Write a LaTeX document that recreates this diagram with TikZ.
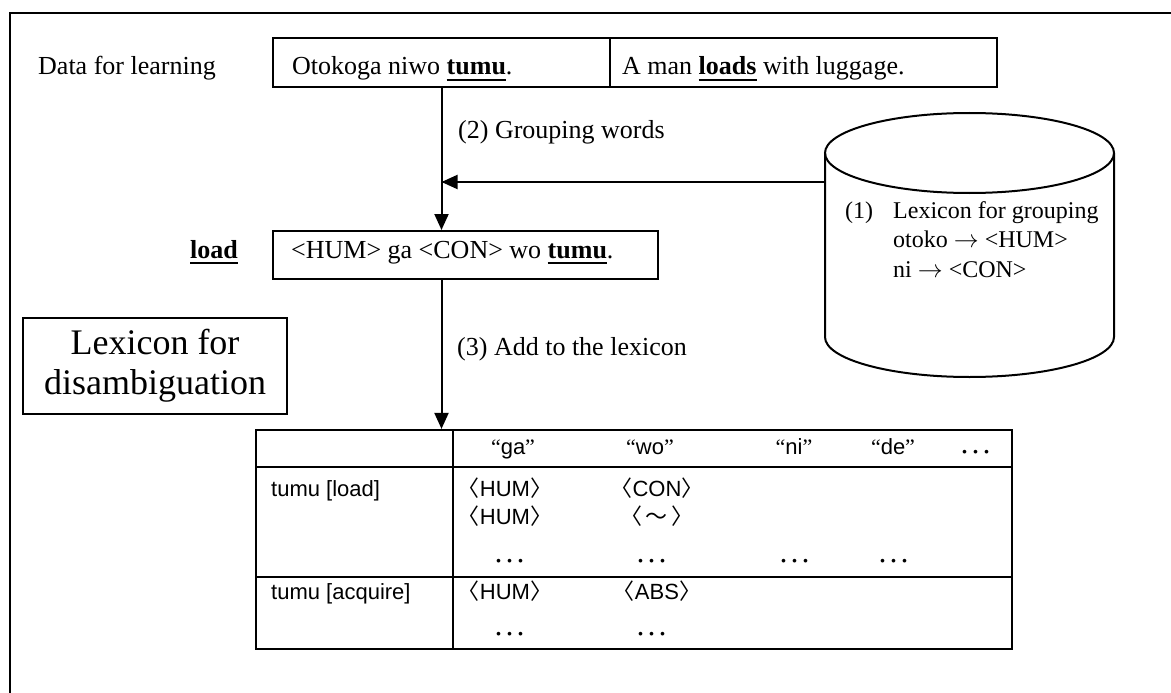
\documentclass[tikz,border=0pt]{standalone}
\usepackage{fontspec}
\setmainfont{Liberation Serif}
\newfontfamily\tabfont{Liberation Sans}
\newfontfamily\cjk{Noto Sans CJK JP}
\usetikzlibrary{arrows.meta,calc}
\newcommand\myul[1]{\setbox0\hbox{#1}\rlap{\rule[-6pt]{\wd0}{2.4pt}}\box0\relax}
\newcommand\myLq{{\rmfamily“}}
\newcommand\myRq{{\rmfamily”}}
\begin{document}
\begin{tikzpicture}[x=1pt,y=-1pt,
  lw/.style={line width=2pt},
  box/.style={draw,line width=2pt,inner sep=0pt},
  tline/.style={line width=2.2pt},
  txt/.style={inner sep=0pt,font=\fontsize{26}{30}\selectfont},
  ctxt/.style={inner sep=0pt,anchor=base west,font=\fontsize{24}{29}\selectfont},
  tt/.style={inner sep=0pt,font=\tabfont\fontsize{22}{26}\selectfont},
  dots/.style={inner sep=0pt,font=\cjk\fontsize{22}{26}\selectfont},
  arr/.style={line width=2pt,-{Triangle[length=16pt,width=14pt]}}]
\useasboundingbox (0,0) rectangle (1171,693);
% outer frame
\draw[line width=2.5pt] (10,693) -- (10,13) -- (1171,13);

% data for learning
\node[txt,anchor=base west] (dfl) at (38,75) {Data for learning};
\node[box,minimum width=337pt,minimum height=49pt] (c1) at (441.5,62.5) {};
\node[box,minimum width=387pt,minimum height=49pt] (c2) at (803.5,62.5) {};
\node[txt,anchor=base west] (t1) at (292,75) {Otokoga niwo \myul{\textbf{tumu}}.};
\node[txt,anchor=base west] (t2) at (622,75) {A man \myul{\textbf{loads}} with luggage.};

% grouped sentence
\node[box,minimum width=385pt,minimum height=48pt] (b2) at (465.5,255) {};
\node[txt,anchor=base west] (t3) at (291,258) {<HUM> ga <CON> wo \myul{\textbf{tumu}}.};
\node[txt,anchor=base west] (ld) at (190,258) {\myul{\textbf{load}}};

% cylinder (lexicon for grouping)
\node[inner sep=0pt,minimum width=289pt,minimum height=264pt] (cyl) at (969.5,245) {};
\draw[lw] (969.5,153) ellipse [x radius=144.5, y radius=40];
\draw[lw] (825,153) -- (825,337) arc[start angle=180,end angle=0,x radius=144.5,y radius=40] -- (1114,153);
\node[ctxt] (g1) at (845,218) {(1)};
\node[ctxt] (g2) at (893,218) {Lexicon for grouping};
\node[ctxt] (g3) at (893,247) {otoko $\rightarrow$ <HUM>};
\node[ctxt] (g4) at (893,277) {ni $\rightarrow$ <CON>};

% lexicon for disambiguation
\node[draw,line width=1.6pt,inner sep=0pt,minimum width=264pt,minimum height=96pt,
  align=center,font=\fontsize{36}{40}\selectfont] (lexd) at (155,366) {Lexicon for\\disambiguation};

% table
\node[draw,line width=2.2pt,inner sep=0pt,minimum width=756pt,minimum height=219pt] (tab) at (634,539.5) {};
\coordinate (cd) at (453,430);
\coordinate (r1) at (256,467);
\coordinate (r2) at (256,577);
\draw[tline] (cd) -- (cd |- tab.south);
\draw[tline] (r1) -- (r1 -| tab.east);
\draw[tline] (r2) -- (r2 -| tab.east);

% connectors
\coordinate (cylw) at (825,182);
\draw[arr] (c1.south) -- (c1.south |- b2.north);
\draw[arr] (cylw) -- (cylw -| c1.south);
\draw[arr] (b2.south -| c1.south) -- (c1.south |- tab.north);
\node[txt,anchor=base west] (l2) at (458,139) {(2) Grouping words};
\node[txt,anchor=base west] (l3) at (457,355) {(3) Add to the lexicon};

% table contents
\node[tt,anchor=base] (hga) at (513,454) {\myLq ga\myRq};
\node[tt,anchor=base] (hwo) at (650,454) {\myLq wo\myRq};
\node[tt,anchor=base] (hni) at (794,454) {\myLq ni\myRq};
\node[tt,anchor=base] (hde) at (893,454) {\myLq de\myRq};
\node[dots] (hdots) at (976,455) {･･･};

\node[tt,anchor=base west] (rl1) at (271,496) {tumu [load]};
\node[tt,anchor=base] (v11) at (505,496) {\cjk〈\tabfont HUM\cjk〉};
\node[tt,anchor=base] (v12) at (657,496) {\cjk〈\tabfont CON\cjk〉};
\node[tt,anchor=base] (v21) at (505,524) {\cjk〈\tabfont HUM\cjk〉};
\node[tt,anchor=base] (v22) at (657,524) {\cjk〈\hspace{4pt}～\hspace{4pt}〉};
\node[dots] (d1) at (510,564) {･･･};
\node[dots] (d2) at (652,564) {･･･};
\node[dots] (d3) at (795,564) {･･･};
\node[dots] (d4) at (894,564) {･･･};

\node[tt,anchor=base west] (rl2) at (271,599) {tumu [acquire]};
\node[tt,anchor=base] (w1) at (505,599) {\cjk〈\tabfont HUM\cjk〉};
\node[tt,anchor=base] (w2) at (657,599) {\cjk〈\tabfont ABS\cjk〉};
\node[dots] (d5) at (510,637) {･･･};
\node[dots] (d6) at (652,637) {･･･};
\end{tikzpicture}
\end{document}
